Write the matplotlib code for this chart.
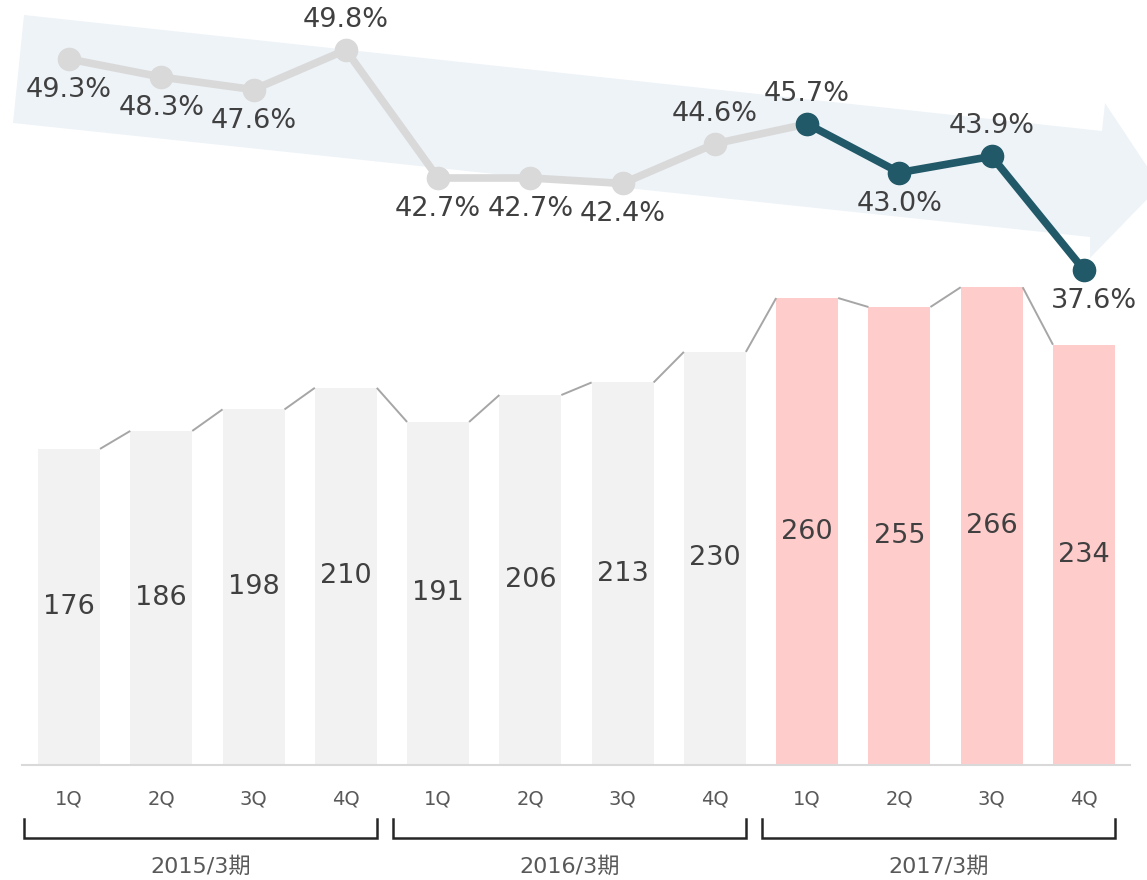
import matplotlib
matplotlib.use("Agg")
import matplotlib.pyplot as plt
from matplotlib.patches import Polygon

# ---- data ----
quarters = ["1Q", "2Q", "3Q", "4Q"] * 3
periods = ["2015/3期", "2016/3期", "2017/3期"]
sales = [176, 186, 198, 210, 191, 206, 213, 230, 260, 255, 266, 234]
ratio = [49.3, 48.3, 47.6, 49.8, 42.7, 42.7, 42.4, 44.6, 45.7, 43.0, 43.9, 37.6]
label_side = ["below", "below", "below", "above", "below", "below", "below",
              "above", "above", "below", "above", "below"]
highlight_start = 8  # first quarter of 2017/3期

W, H = 1147, 880
fig = plt.figure(figsize=(W / 100, H / 100), dpi=100)

# pixel helper axes for decorations (0..W, 0..H from top)
deco = fig.add_axes([0, 0, 1, 1], zorder=0)
deco.set_xlim(0, W)
deco.set_ylim(H, 0)
deco.axis("off")

arrow = Polygon([(24, 15), (1102, 131), (1105, 103), (1160, 186),
                 (1090, 258), (1090, 237), (13, 123)],
                closed=True, facecolor="#eef3f8", edgecolor="none")
deco.add_patch(arrow)

# ---- bar axes ----
x0_px, step_px = 69.0, 92.27
bar_zero_px, bar_scale = 765.0, 1.796
n = len(sales)
xlim = ((0 - x0_px) / step_px, (W - x0_px) / step_px)

ax = fig.add_axes([0, 0, 1, 1], zorder=1)
ax.patch.set_alpha(0)
ax.set_xlim(*xlim)
ax.set_ylim(-(H - bar_zero_px) / bar_scale, bar_zero_px / bar_scale)
ax.axis("off")

xs = list(range(n))
colors = ["#f2f2f2" if i < highlight_start else "#ffcccc" for i in xs]
bw = 62 / step_px
ax.bar(xs, sales, width=bw, color=colors, edgecolor="none", zorder=2)
for i in range(n - 1):
    ax.plot([i + bw / 2, i + 1 - bw / 2], [sales[i], sales[i + 1]],
            color="#a6a6a6", lw=1.4, zorder=2, solid_capstyle="butt")
for i, v in enumerate(sales):
    ax.text(i, v / 2, str(v), ha="center", va="center", fontsize=19.5,
            color="#404040", zorder=3)

# baseline
ax.plot([(22 - x0_px) / step_px, (1130 - x0_px) / step_px], [0, 0],
        color="#d9d9d9", lw=1.5, zorder=3)

# quarter labels
lab_y = -(799 - bar_zero_px) / bar_scale
for i, q in enumerate(quarters):
    ax.text(i, lab_y, q, ha="center", va="center", fontsize=14,
            color="#595959")

# brackets
top_y = -(819 - bar_zero_px) / bar_scale
bot_y = -(838 - bar_zero_px) / bar_scale
per_y = -(867 - bar_zero_px) / bar_scale
for k, p in enumerate(periods):
    a = 4 * k - 0.49
    b = 4 * k + 3.34
    ax.plot([a, a, b, b], [top_y, bot_y, bot_y, top_y], color="#262626",
            lw=1.8, solid_joinstyle="miter")
    ax.text((a + b) / 2, per_y, p, ha="center", va="center", fontsize=16,
            color="#595959", family=["DejaVu Sans", "Noto Sans CJK JP"])

# ---- line axes ----
top_pct, pct_scale, top_pct_px = 49.3, 18.03, 59.0
ax2 = fig.add_axes([0, 0, 1, 1], zorder=2)
ax2.patch.set_alpha(0)
ax2.set_xlim(*xlim)
ax2.set_ylim(top_pct - (H - top_pct_px) / pct_scale,
             top_pct + top_pct_px / pct_scale)
ax2.axis("off")

ax2.plot(xs[:highlight_start + 1], ratio[:highlight_start + 1], color="#d9d9d9",
         lw=5.5, marker="o", markersize=16, zorder=3)
ax2.plot(xs[highlight_start:], ratio[highlight_start:], color="#215968",
         lw=5.5, marker="o", markersize=16, zorder=4)
for i, (r, side) in enumerate(zip(ratio, label_side)):
    dy = 30 if side == "above" else -31
    dx = 10 if i == n - 1 else 0
    ax2.annotate(f"{r:.1f}%", (i, r), xytext=(dx * 0.72, dy * 0.72),
                 textcoords="offset points", ha="center", va="center",
                 fontsize=19.5, color="#404040", zorder=5)

fig.savefig("out.png", dpi=100)
